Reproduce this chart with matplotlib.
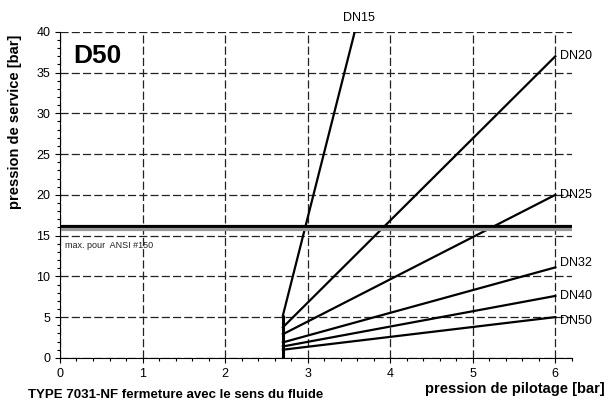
import numpy as np
import matplotlib.pyplot as plt
from matplotlib.ticker import MultipleLocator

plt.rcParams['font.family'] = ['Liberation Sans', 'DejaVu Sans']

# pression de pilotage [bar] -> pression de service [bar]
x_debut = 2.7
noms = ['DN15', 'DN20', 'DN25', 'DN32', 'DN40', 'DN50']
x_fin = [3.57, 6.0, 6.0, 6.0, 6.0, 6.0]
y_debut = [5.2, 3.75, 2.9, 1.9, 1.4, 1.0]
y_fin = [40.0, 37.0, 20.0, 11.1, 7.6, 5.0]
ansi_max = 16.0

fig = plt.figure(figsize=(6.09, 4.03), dpi=100)
ax = fig.add_axes([0.0985, 0.112, 0.8405, 0.809])

# ligne verticale au départ
ax.plot([x_debut, x_debut], [0, max(y_debut)], color='black', lw=2.2,
        solid_capstyle='butt')
# petit décalage vertical des étiquettes (en points)
decal = {'DN32': 3, 'DN50': -3}
for nom, x1, y0, y1 in zip(noms, x_fin, y_debut, y_fin):
    ax.plot([x_debut, x1], [y0, y1], color='black', lw=1.6)
    if nom == 'DN15':
        ax.text(3.62, 41.7, nom, fontsize=9, ha='center', va='center',
                clip_on=False)
    else:
        ax.annotate(nom, (x1 + 0.06, y1), xytext=(0, decal.get(nom, 0)),
                    textcoords='offset points', fontsize=9, ha='left',
                    va='center', annotation_clip=False)

# limite ANSI
ax.axhline(ansi_max + 0.15, color='black', lw=2.3)
ax.axhline(ansi_max - 0.25, color='#999999', lw=2.3)
ax.text(0.06, 13.8, 'max. pour  ANSI #150', fontsize=6.5, color='#222222',
        va='center')

ax.text(0.16, 37.05, 'D50', fontsize=19, fontweight='bold', va='center')

ax.set_xlim(0, 6.2)
ax.set_ylim(0, 40)
ax.xaxis.set_major_locator(MultipleLocator(1))
ax.xaxis.set_minor_locator(MultipleLocator(0.2))
ax.yaxis.set_major_locator(MultipleLocator(5))
ax.yaxis.set_minor_locator(MultipleLocator(1))
ax.tick_params(which='both', direction='out', labelsize=9, width=0.8)
ax.tick_params(which='major', length=3.5)
ax.tick_params(which='minor', length=2)
ax.grid(True, which='major', color='#222222', ls=(0, (6.5, 2.5)), lw=0.9)
ax.spines['top'].set_visible(False)
ax.spines['right'].set_visible(False)

fig.text(0.993, 0.034, 'pression de pilotage [bar]', fontsize=10.5,
         fontweight='bold', ha='right', va='center')
fig.text(0.046, 0.02, 'TYPE 7031-NF fermeture avec le sens du fluide',
         fontsize=9.5, fontweight='bold', ha='left', va='center')
fig.text(0.0246, 0.697, 'pression de service [bar]', fontsize=10.5,
         fontweight='bold', rotation=90, ha='center', va='center')

fig.savefig('out.png', dpi=100)
